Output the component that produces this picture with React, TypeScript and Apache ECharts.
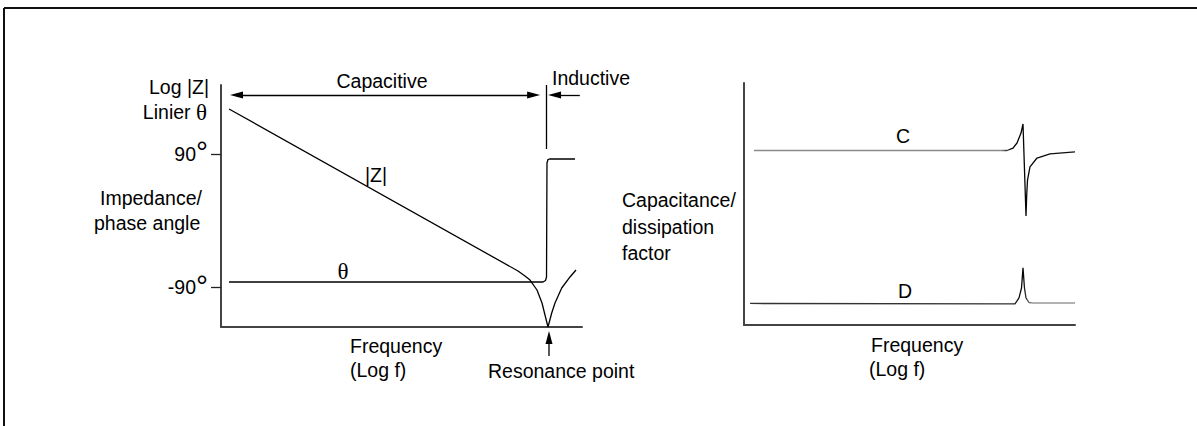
import React, { useEffect, useRef } from "react";
import * as echarts from "echarts";

// ---------- data (schematic units) ----------
// Left panel: x = log f (0..100), y = phase in degrees (|Z| drawn on the same log scale)
const zFreq = [2.22, 82.27, 84.21, 85.6, 87.53, 88.92, 89.75, 90.58, 91.61, 92.52, 94.38, 96.68, 98.34];
const zLog = [150.6, -68.3, -75.1, -80.5, -94.0, -111.6, -127.8, -144, -125.1, -111.6, -91.3, -76.4, -67.0];
const thetaFreq = [2.22, 89.2, 89.9, 90.17, 90.3, 90.58, 91.0, 98.06];
const thetaDeg = [-83.2, -83.2, -81.2, -76.4, 77.6, 82.3, 83, 83];
const phaseTicks = [-90, 90];

// Right panel: x = log f (0..100), y = arbitrary (0..100)
const cFreq = [3.02, 79.46, 81.27, 82.48, 83.69, 84.29, 85.2, 85.41, 85.65, 86.4, 88.52, 92.45, 100];
const cVal = [72.1, 72.1, 73.1, 75.2, 79.3, 83.1, 45.0, 53.7, 59.9, 65.3, 69.0, 70.7, 71.5];
const dFreq = [1.81, 81.87, 83.08, 83.84, 84.29, 84.74, 85.2, 86.1, 87.0, 100];
const dVal = [8.9, 8.7, 11.2, 15.3, 23.6, 15.3, 11.2, 9.3, 9.1, 9.1];

const FONT = '"Liberation Sans", Arial, Helvetica, sans-serif';
const SERIF = '"Liberation Serif", "DejaVu Serif", serif';
const FS = 19.5;
const TFS = 23;

const zip = (a: number[], b: number[]) => a.map((v, i) => [v, b[i]]);

function txt(text: string, x: number, y: number, align: string = "left", rich?: any) {
  return {
    type: "text",
    x,
    y,
    silent: true,
    style: {
      text,
      fill: "#000",
      font: `${FS}px ${FONT}`,
      align,
      textAlign: align,
      verticalAlign: "middle",
      textVerticalAlign: "middle",
      rich,
    },
  };
}

export default function App() {
  const ref = useRef<HTMLDivElement>(null);
  useEffect(() => {
    if (!ref.current) return;
    const chart = echarts.init(ref.current, undefined, { renderer: "svg" });
    const axisLineStyle = { color: "#444", width: 2 };
    const lineStyle = { color: "#000", width: 1.3 };
    const hiddenAxisBits = { axisTick: { show: false }, axisLabel: { show: false }, splitLine: { show: false } };
    const option: any = {
      animation: false,
      backgroundColor: "#fff",
      grid: [
        { left: 221, top: 85, width: 361, height: 242 },
        { left: 744, top: 83, width: 331, height: 242 },
      ],
      xAxis: [
        {
          type: "value", gridIndex: 0, min: 0, max: 100,
          axisLine: { show: true, onZero: false, lineStyle: axisLineStyle },
          ...hiddenAxisBits,
        },
        {
          type: "value", gridIndex: 1, min: 0, max: 100,
          axisLine: { show: true, onZero: false, lineStyle: axisLineStyle },
          ...hiddenAxisBits,
        },
      ],
      yAxis: [
        {
          type: "value", gridIndex: 0, min: -144, max: 183,
          axisLine: { show: true, onZero: false, lineStyle: axisLineStyle },
          axisTick: { show: true, customValues: phaseTicks, length: 10, lineStyle: { color: "#222", width: 1.3 } },
          axisLabel: {
            show: true,
            customValues: phaseTicks,
            margin: 13,
            formatter: (v: number) => `{n|${v}}{d|°}`,
            rich: {
              n: { fontSize: FS, fontFamily: FONT, color: "#000" },
              d: { fontSize: 30, fontFamily: FONT, color: "#000", padding: [0, 0, 4, 0] },
            },
          },
          splitLine: { show: false },
        },
        {
          type: "value", gridIndex: 1, min: 0, max: 100,
          axisLine: { show: true, onZero: false, lineStyle: axisLineStyle },
          ...hiddenAxisBits,
        },
      ],
      series: [
        {
          name: "|Z|", type: "line", xAxisIndex: 0, yAxisIndex: 0,
          data: zip(zFreq, zLog), showSymbol: false, clip: false, lineStyle,
        },
        {
          name: "θ", type: "line", xAxisIndex: 0, yAxisIndex: 0,
          data: zip(thetaFreq, thetaDeg), showSymbol: false, clip: false, lineStyle,
          markLine: {
            silent: true,
            animation: false,
            label: { show: false },
            lineStyle: { color: "#000", width: 1.3, type: "solid" },
            symbolSize: [7, 13],
            data: [
              [
                { coord: [4.3, 169.5], symbol: "triangle" },
                { coord: [86.6, 169.5], symbol: "triangle" },
              ],
              [
                { coord: [99.4, 169.5], symbol: "none" },
                { coord: [92.4, 169.5], symbol: "triangle" },
              ],
              [
                { coord: [90.0, 183], symbol: "none" },
                { coord: [90.0, 96.5], symbol: "none" },
              ],
            ],
          },
        },
        {
          name: "C", type: "line", xAxisIndex: 1, yAxisIndex: 1,
          data: zip(cFreq, cVal), showSymbol: false, clip: false,
          lineStyle: {
            width: 1.3,
            color: {
              type: "linear", x: 0, y: 0, x2: 1, y2: 0,
              colorStops: [
                { offset: 0, color: "#8a8a8a" },
                { offset: 0.77, color: "#8a8a8a" },
                { offset: 0.8, color: "#000" },
                { offset: 1, color: "#111" },
              ],
            },
          },
        },
        {
          name: "D", type: "line", xAxisIndex: 1, yAxisIndex: 1,
          data: zip(dFreq, dVal), showSymbol: false, clip: false,
          lineStyle: {
            width: 1.3,
            color: {
              type: "linear", x: 0, y: 0, x2: 1, y2: 0,
              colorStops: [
                { offset: 0, color: "#333" },
                { offset: 0.8, color: "#333" },
                { offset: 0.84, color: "#000" },
                { offset: 0.87, color: "#999" },
                { offset: 1, color: "#999" },
              ],
            },
          },
        },
      ],
      graphic: [
        { type: "line", silent: true, shape: { x1: 4, y1: 8, x2: 1197, y2: 8 }, style: { stroke: "#111", lineWidth: 2 } },
        { type: "line", silent: true, shape: { x1: 4, y1: 8, x2: 4, y2: 426 }, style: { stroke: "#111", lineWidth: 2 } },
        txt("Log |Z|", 209, 87, "right"),
        txt("{a|Linier }{t|θ}", 207, 112, "right", {
          a: { fontSize: FS, fontFamily: FONT, color: "#000" },
          t: { fontSize: TFS, fontFamily: SERIF, color: "#000" },
        }),
        txt("Impedance/", 100, 198),
        txt("phase angle", 94, 223),
        txt("Capacitive", 382, 81, "center"),
        txt("Inductive", 552, 78),
        txt("|Z|", 376, 175, "center"),
        {
          type: "text", x: 343, y: 271, silent: true,
          style: { text: "θ", fill: "#000", font: `${TFS}px ${SERIF}`, align: "center", verticalAlign: "middle", textAlign: "center", textVerticalAlign: "middle" },
        },
        txt("Frequency", 350, 346),
        txt("(Log f)", 350, 370),
        txt("Resonance point", 488, 371),
        { type: "line", silent: true, shape: { x1: 549, y1: 356, x2: 549, y2: 340 }, style: { stroke: "#000", lineWidth: 1.3 } },
        { type: "polygon", silent: true, shape: { points: [[549, 331], [545.5, 344], [552.5, 344]] }, style: { fill: "#000" } },
        txt("Capacitance/", 622, 200),
        txt("dissipation", 622, 227),
        txt("factor", 622, 253),
        txt("C", 903, 136, "center"),
        txt("D", 905, 291, "center"),
        txt("Frequency", 871, 345),
        txt("(Log f)", 869, 369),
      ],
    };
    chart.setOption(option);
    return () => chart.dispose();
  }, []);
  return (
    <div
      ref={ref}
      style={{ position: "fixed", left: 0, top: 0, width: 1197, height: 426, background: "#fff" }}
    />
  );
}
